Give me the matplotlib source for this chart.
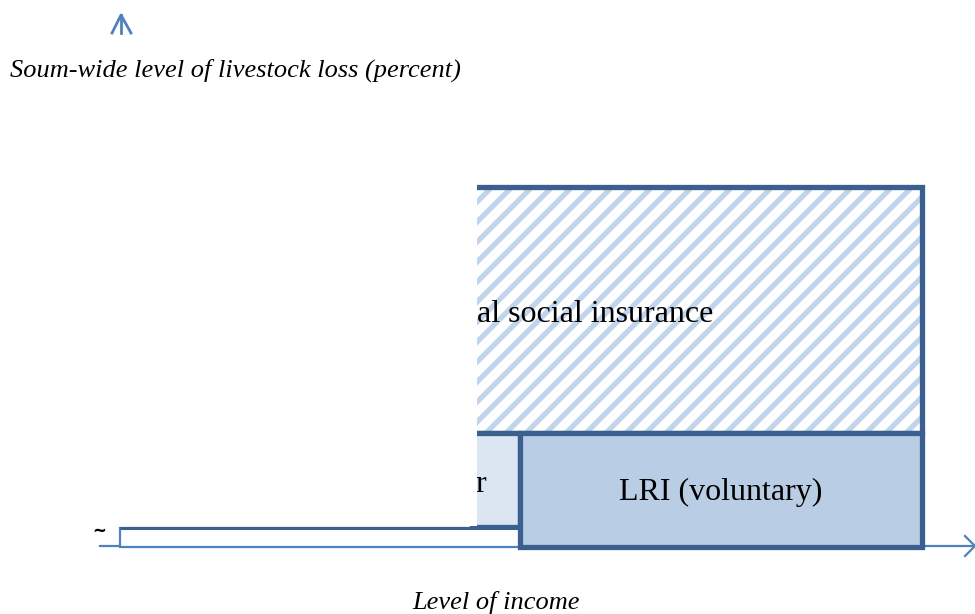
import numpy as np
import matplotlib
matplotlib.use("Agg")
import matplotlib.pyplot as plt
from matplotlib.patches import Rectangle

# ---- diagram data (income on x, soum-wide loss level on y) ----
layer_labels = ["al social insurance", "r", "LRI (voluntary)", ""]
layer_income_lo = [472, 472, 520, 120]
layer_income_hi = [922, 520, 922, 520]
layer_loss_lo = [114, 20, 0, 0]
layer_loss_hi = [360, 114, 114, 19]
x_label = "Level of income"
y_label = "Soum-wide level of livestock loss (percent)"

DARK = "#3B5F8E"
MID = "#4F81BD"
LIGHT = "#DCE6F2"
LRI = "#B9CDE5"
STRIPE = "#C0D4EB"

fig = plt.figure(figsize=(9.75, 6.14), dpi=100)
ax = fig.add_axes([0, 0, 1, 1])
ax.set_xlim(0, 975)
ax.set_ylim(-67, 547)
ax.axis("off")

serif = ["Liberation Serif", "DejaVu Serif"]

# hatched top layer
x0, x1, y0, y1 = layer_income_lo[0], layer_income_hi[0], layer_loss_lo[0], layer_loss_hi[0]
hb = Rectangle((x0, y0), x1 - x0, y1 - y0, facecolor="white", edgecolor="none", zorder=1)
ax.add_patch(hb)
offs = np.arange(x0 - (y1 - y0) - 40, x1 + 40, 20)
for o in offs:
    ln, = ax.plot([o, o + (y1 - y0)], [y0, y1], color=STRIPE, lw=3.8,
                  solid_capstyle="butt", zorder=2)
    ln.set_clip_path(hb)
ax.add_patch(Rectangle((x0, y0), x1 - x0, y1 - y0, facecolor="none",
                       edgecolor=DARK, lw=3.8, zorder=3))

# light box
i = 1
ax.add_patch(Rectangle((layer_income_lo[i], layer_loss_lo[i]),
                       layer_income_hi[i] - layer_income_lo[i],
                       layer_loss_hi[i] - layer_loss_lo[i],
                       facecolor=LIGHT, edgecolor=DARK, lw=3.8, zorder=3))
# LRI box
i = 2
ax.add_patch(Rectangle((layer_income_lo[i], layer_loss_lo[i]),
                       layer_income_hi[i] - layer_income_lo[i],
                       layer_loss_hi[i] - layer_loss_lo[i],
                       facecolor=LRI, edgecolor=DARK, lw=3.8, zorder=4))
# thin base box
i = 3
ax.add_patch(Rectangle((layer_income_lo[i], layer_loss_lo[i]),
                       layer_income_hi[i] - layer_income_lo[i],
                       layer_loss_hi[i] - layer_loss_lo[i],
                       facecolor="white", edgecolor=MID, lw=1.6, zorder=3.5))
ax.plot([layer_income_lo[3], layer_income_hi[3]], [layer_loss_hi[3], layer_loss_hi[3]],
        color=DARK, lw=2.2, zorder=3.6, solid_capstyle="butt")

# white cover on the left
ax.add_patch(Rectangle((0, 21), 476.5, 400, facecolor="white", edgecolor="none", zorder=6))

# texts
ax.text(477, 233, layer_labels[0], fontsize=23, family=serif, ha="left", va="center", zorder=7)
ax.text(475, 63, layer_labels[1], fontsize=23, family=serif, ha="left", va="center", zorder=5)
ax.text(721, 55, layer_labels[2], fontsize=23, family=serif, ha="center", va="center", zorder=7)

# axes arrows
ax.plot([100, 974], [1, 1], color=MID, lw=1.6, zorder=3.4)
ax.plot([965, 975, 965], [11, 1, -9], color=MID, lw=1.6, zorder=8)
ax.plot([121, 121], [514, 532], color=MID, lw=2.0, zorder=8)
ax.plot([112, 121, 131], [514, 532, 514], color=MID, lw=2.0, zorder=8)
ax.text(99, 16, "~", fontsize=12, fontweight="bold", ha="center", va="center",
        color="black", zorder=8)

ax.text(10, 477, y_label, fontsize=19, family=serif, style="italic", ha="left", va="center", zorder=8)
ax.text(496, -56, x_label, fontsize=19, family=serif, style="italic", ha="center", va="center", zorder=8)

fig.savefig("out.png", dpi=100)
